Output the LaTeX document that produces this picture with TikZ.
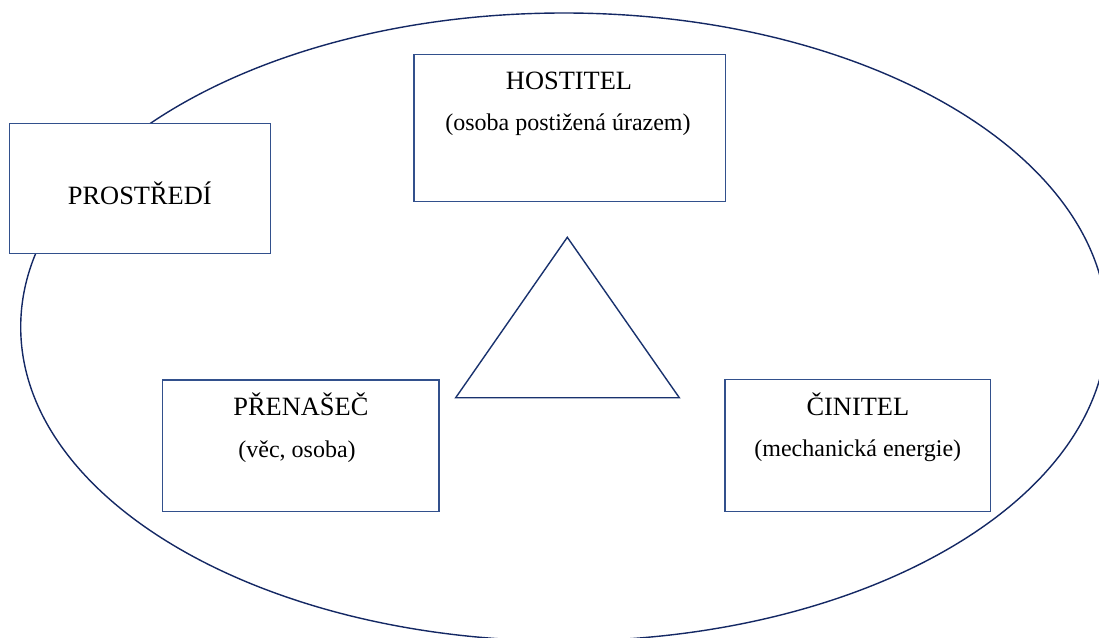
\documentclass[tikz,border=0pt]{standalone}
\usepackage{fontspec}
\setmainfont{Liberation Serif}
\definecolor{ellcol}{RGB}{20,40,100}
\definecolor{boxcol}{RGB}{50,80,140}
\definecolor{tricol}{RGB}{25,50,110}
\begin{document}
\begin{tikzpicture}[x=1pt,y=-1pt,
  boxstyle/.style={draw=boxcol,line width=1.4pt,fill=white,rectangle,inner sep=0pt},
  titletext/.style={anchor=base,inner sep=0pt,font=\fontsize{26.4}{30}\selectfont},
  subtext/.style={anchor=base,inner sep=0pt,font=\fontsize{24}{28}\selectfont}]
\useasboundingbox (0,0) rectangle (1099,637);
\clip (0,0) rectangle (1099,637);
\fill[white] (0,0) rectangle (1099,637);
% ellipse
\draw[ellcol,line width=1.4pt] (563.9,327) ellipse [x radius=543.2, y radius=314];
% boxes
\node[boxstyle,minimum width=260.8pt,minimum height=130pt] (prostredi) at (139.9,188.7) {};
\node[boxstyle,minimum width=311.3pt,minimum height=146.6pt] (hostitel) at (569.7,128) {};
\node[boxstyle,minimum width=276.3pt,minimum height=131.7pt] (prenasec) at (300.9,445.8) {};
\node[boxstyle,minimum width=265.7pt,minimum height=132.4pt] (cinitel) at (857.9,445.5) {};
% texts
\node[titletext] (tprostredi) at (139.8,204) {PROSTŘEDÍ};
\node[titletext] (thostitel) at (569,89) {HOSTITEL};
\node[subtext] (shostitel) at (568,130.5) {(osoba postižená úrazem)};
\node[titletext] (tprenasec) at (300.9,415) {PŘENAŠEČ};
\node[subtext] (sprenasec) at (297,457) {(věc, osoba)};
\node[titletext] (tcinitel) at (857.9,415) {ČINITEL};
\node[subtext] (scinitel) at (857.8,456.5) {(mechanická energie)};
% triangle
\coordinate (apex) at (567.3,237.3);
\coordinate (bl) at (455.7,397.7);
\coordinate (br) at (679.3,397.7);
\draw[tricol,line width=1.4pt,line join=miter] (apex) -- (br) -- (bl) -- cycle;
\end{tikzpicture}
\end{document}
